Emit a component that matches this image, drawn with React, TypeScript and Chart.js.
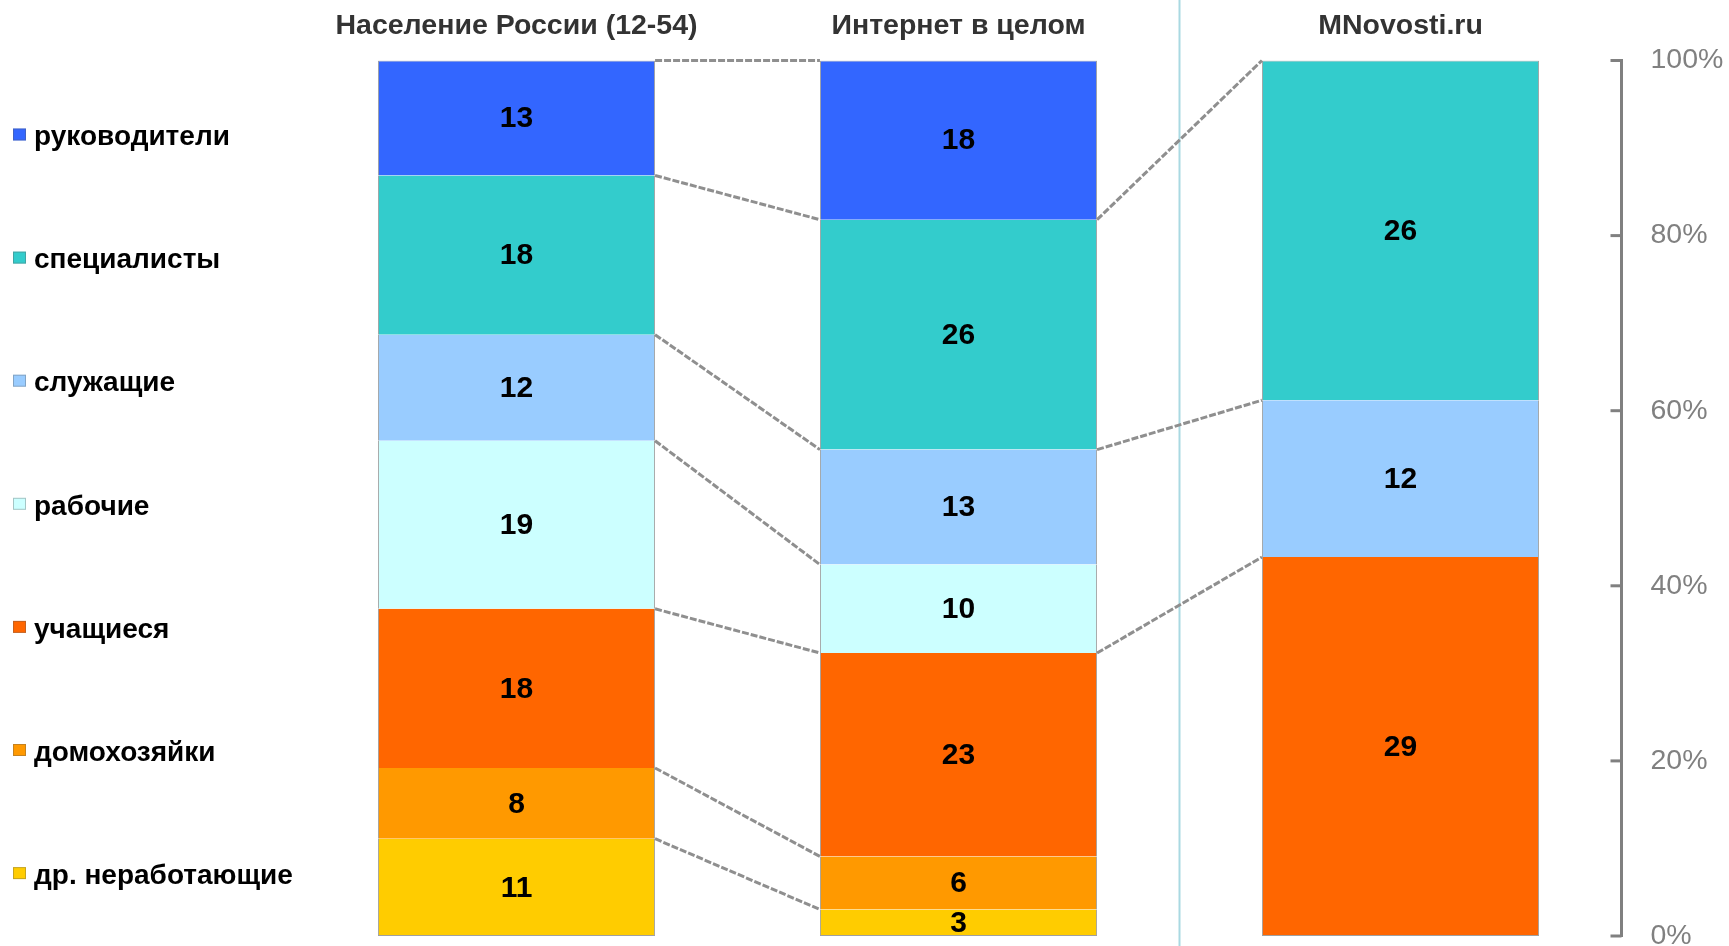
import React, { useEffect, useRef } from "react";
import { Chart, registerables } from "chart.js";

Chart.register(...registerables);

const FONT = '"Liberation Sans", Arial, sans-serif';

// Categories (columns)
const categories = ["Население России (12-54)", "Интернет в целом", "MNovosti.ru"];

// Series (legend order, top to bottom of each column)
const seriesNames = [
  "руководители",
  "специалисты",
  "служащие",
  "рабочие",
  "учащиеся",
  "домохозяйки",
  "др. неработающие",
];
const seriesColors = ["#3366FF", "#33CCCC", "#99CCFF", "#CCFFFF", "#FF6600", "#FF9900", "#FFCC00"];

// Values per column
const rukovoditeli = [13, 18, 0];
const spetsialisty = [18, 26, 26];
const sluzhashchie = [12, 13, 12];
const rabochie = [19, 10, 0];
const uchashchiesya = [18, 23, 29];
const domokhozyaiki = [8, 6, 0];
const drNerabotayushchie = [11, 3, 0];

const seriesValues = [
  rukovoditeli,
  spetsialisty,
  sluzhashchie,
  rabochie,
  uchashchiesya,
  domokhozyaiki,
  drNerabotayushchie,
];

// Y axis tick values (percent)
const yTicks = [0, 20, 40, 60, 80, 100];

const totals = categories.map((_, i) => seriesValues.reduce((s, arr) => s + arr[i], 0));
const shares = seriesValues.map((arr) => arr.map((v, i) => (v / totals[i]) * 100));

// dataset j (bottom-first) -> series index k
const seriesOrderBottomFirst = seriesNames.map((_, k) => seriesNames.length - 1 - k);

const decorPlugin = {
  id: "decor",
  beforeDatasetsDraw(chart: any) {
    const { ctx } = chart;
    const x = chart.scales.x;
    const sepX = x.getPixelForValue(1.5);
    ctx.save();
    ctx.strokeStyle = "#A9D9E2";
    ctx.lineWidth = 2;
    ctx.beginPath();
    ctx.moveTo(sepX, 0);
    ctx.lineTo(sepX, chart.height);
    ctx.stroke();
    ctx.restore();
  },
  afterDatasetsDraw(chart: any) {
    const { ctx } = chart;
    ctx.save();
    // series lines
    ctx.strokeStyle = "#8F8F8F";
    ctx.lineWidth = 3;
    ctx.setLineDash([7, 2]);
    seriesOrderBottomFirst.forEach((k, j) => {
      const meta = chart.getDatasetMeta(j);
      for (let i = 0; i < categories.length - 1; i++) {
        if (!seriesValues[k][i] || !seriesValues[k][i + 1]) continue;
        const a = meta.data[i].getProps(["x", "y", "width"], true);
        const b = meta.data[i + 1].getProps(["x", "y", "width"], true);
        ctx.beginPath();
        ctx.moveTo(a.x + a.width / 2, a.y);
        ctx.lineTo(b.x - b.width / 2, b.y);
        ctx.stroke();
      }
    });
    ctx.setLineDash([]);

    // data labels
    ctx.fillStyle = "#000";
    ctx.font = `bold 30px ${FONT}`;
    ctx.textAlign = "center";
    ctx.textBaseline = "middle";
    seriesOrderBottomFirst.forEach((k, j) => {
      const meta = chart.getDatasetMeta(j);
      meta.data.forEach((el: any, i: number) => {
        const v = seriesValues[k][i];
        if (!v) return;
        const p = el.getProps(["x", "y", "base"], true);
        ctx.fillText(String(v), p.x, (p.y + p.base) / 2 + 1);
      });
    });

    // inward y ticks
    const ys = chart.scales.y;
    ctx.strokeStyle = "#808080";
    ctx.lineWidth = 3;
    yTicks.forEach((v) => {
      const py = ys.getPixelForValue(v);
      ctx.beginPath();
      ctx.moveTo(ys.left - 11, py);
      ctx.lineTo(ys.left, py);
      ctx.stroke();
    });
    ctx.restore();
  },
  afterDraw(chart: any) {
    const { ctx, chartArea } = chart;
    ctx.save();
    ctx.font = `bold 28px ${FONT}`;
    ctx.textAlign = "left";
    ctx.textBaseline = "middle";
    seriesNames.forEach((name, k) => {
      const cy = chartArea.top + 76 + k * 123.1;
      ctx.fillStyle = seriesColors[k];
      ctx.fillRect(13, cy - 8, 13, 12);
      ctx.strokeStyle = "rgba(90,90,90,0.35)";
      ctx.lineWidth = 1;
      ctx.strokeRect(13.5, cy - 7.5, 12, 11);
      ctx.fillStyle = "#000";
      ctx.fillText(name, 34, cy + 1);
    });
    ctx.restore();
  },
};

export default function App() {
  const ref = useRef<HTMLCanvasElement | null>(null);

  useEffect(() => {
    document.body.style.margin = "0";
    const canvas = ref.current;
    if (!canvas) return;

    const datasets = seriesOrderBottomFirst.map((k) => ({
      label: seriesNames[k],
      data: shares[k],
      backgroundColor: seriesColors[k],
      borderColor: "#A0A0A0",
      borderSkipped: false as any,
      borderWidth: (c: any) => {
        const i = c.dataIndex;
        if (!seriesValues[k][i]) return 0;
        let isTop = true;
        for (let m = 0; m < k; m++) if (seriesValues[m][i]) isTop = false;
        let isBottom = true;
        for (let m = k + 1; m < seriesValues.length; m++) if (seriesValues[m][i]) isBottom = false;
        return { left: 1, right: 1, top: isTop ? 1 : 0, bottom: isBottom ? 1 : 0 };
      },
      barPercentage: 0.627,
      categoryPercentage: 1,
    }));

    const chart = new Chart(canvas, {
      type: "bar",
      data: { labels: categories, datasets },
      options: {
        responsive: false,
        animation: false,
        layout: { padding: { left: 295.5, right: 0, top: 0, bottom: 10 } },
        plugins: {
          legend: { display: false },
          tooltip: { enabled: false },
          title: { display: false },
        },
        scales: {
          x: {
            type: "category",
            stacked: true,
            position: "top",
            offset: true,
            grid: { display: false, drawTicks: false },
            border: { display: false },
            ticks: {
              color: "#333333",
              font: { size: 28.5, weight: "bold", family: FONT },
              padding: 17,
              maxRotation: 0,
              autoSkip: false,
            },
            afterFit: (s: any) => {
              s.height = 60.5;
              s.paddingLeft = 0;
              s.paddingRight = 0;
            },
          },
          y: {
            type: "linear",
            stacked: true,
            position: "right",
            min: 0,
            max: 100,
            grid: { display: false, drawTicks: false },
            border: { display: true, color: "#808080", width: 3 },
            afterBuildTicks: (s: any) => {
              s.ticks = yTicks.map((v) => ({ value: v }));
            },
            ticks: {
              color: "#808080",
              font: { size: 28.5, family: FONT },
              padding: 29,
              callback: (v: any) => `${v}%`,
            },
            afterFit: (s: any) => {
              s.width = 107.5;
              s.paddingTop = 0;
              s.paddingBottom = 0;
            },
          },
        },
      } as any,
      plugins: [decorPlugin],
    });

    return () => chart.destroy();
  }, []);

  return (
    <div style={{ position: "fixed", left: 0, top: 0, width: 1729, height: 946, background: "#fff" }}>
      <canvas ref={ref} width={1729} height={946} style={{ display: "block", width: 1729, height: 946 }} />
    </div>
  );
}
